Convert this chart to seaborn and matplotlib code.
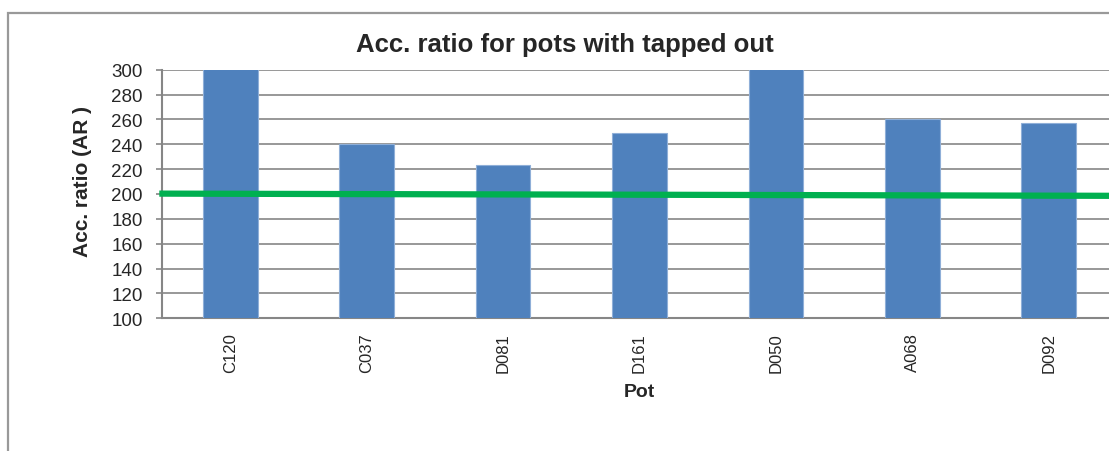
import matplotlib
matplotlib.use("Agg")
import matplotlib.pyplot as plt
from matplotlib.patches import Rectangle
import seaborn as sns
import pandas as pd

# Accumulation ratio per pot (tapped out)
pots = ["C120", "C037", "D081", "D161", "D050", "A068", "D092"]
acc_ratio = [301, 240, 223, 249, 301, 260, 257]

# Reference level line (start and end values)
ref_line_x = [-0.52, 6.6]
ref_line_y = [200.3, 198.5]

sns.set_theme(style="white")
plt.rcParams["font.family"] = ["Liberation Sans", "DejaVu Sans"]

df = pd.DataFrame({"Pot": pots, "AR": acc_ratio})

fig = plt.figure(figsize=(11.09, 4.52), dpi=100)
ax = fig.add_axes([0.1461, 0.2936, 0.8611, 0.55])

# outer chart frame
fig.patches.append(Rectangle((7.5 / 1109, -0.2), 1.2, 1 - 13.5 / 452 + 0.2,
                             transform=fig.transFigure, fill=False,
                             edgecolor="#999999", linewidth=1.6, zorder=0))

sns.barplot(data=df, x="Pot", y="AR", color="#4F81BD", width=0.4,
            edgecolor="#8FAFD8", linewidth=0.8, saturation=1, ax=ax, zorder=3)

ax.plot(ref_line_x, ref_line_y, color="#00B050", linewidth=4.5,
        solid_capstyle="butt", zorder=4, clip_on=False)

ax.set_ylim(100, 300)
ax.set_xlim(-0.5, 6.5)
ax.set_yticks(range(100, 301, 20))
ax.yaxis.grid(True, color="#868686", linewidth=1.2, zorder=0)
ax.set_axisbelow(True)

for s in ["top", "right"]:
    ax.spines[s].set_visible(False)
for s in ["left", "bottom"]:
    ax.spines[s].set_color("#868686")
    ax.spines[s].set_linewidth(1.5)

ax.tick_params(axis="y", which="major", direction="out", length=4,
               color="#868686", width=1.2, labelsize=13.5, pad=10, left=True)
ax.tick_params(axis="x", length=0, labelsize=12, pad=10)
for lbl in ax.get_xticklabels():
    lbl.set_rotation(90)

ax.set_xlabel("Pot", fontweight="bold", fontsize=14, labelpad=8)
ax.set_ylabel("Acc. ratio (AR )", fontweight="bold", fontsize=15)
ax.yaxis.set_label_coords(-0.073, 0.555)
fig.text(0.509, 0.90, "Acc. ratio for pots with tapped out", ha="center",
         va="center", fontweight="bold", fontsize=18.5)

fig.savefig("out.png", dpi=100)
